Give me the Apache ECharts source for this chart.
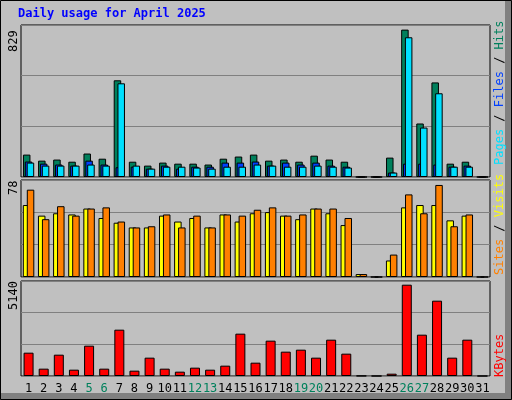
<!DOCTYPE html>
<html>
<head>
<meta charset="utf-8">
<script src="https://cdn.jsdelivr.net/npm/echarts@6/dist/echarts.min.js"></script>
<style>
  html, body { margin: 0; padding: 0; background: #c0c0c0; }
  #main { width: 512px; height: 400px; }
</style>
</head>
<body>
<div id="main"></div>
<script>
// data
const days = [];
for (let d = 1; d <= 31; d++) days.push(String(d));
const weekends = ["5", "6", "12", "13", "19", "20", "26", "27"];

const hits = [126, 92, 98, 86, 132, 103, 544, 86, 64, 81, 75, 75, 70, 103, 115, 126,
  92, 98, 86, 120, 98, 86, 0, 0, 109, 829, 301, 532, 75, 86, 0];
const files = [87, 75, 70, 64, 92, 70, 55, 58, 47, 64, 47, 58, 58, 81, 81, 87,
  64, 81, 70, 81, 64, 58, 0, 0, 25, 75, 75, 70, 58, 64, 0];
const pages = [81, 64, 64, 64, 70, 64, 527, 64, 47, 58, 58, 53, 47, 58, 58, 70,
  64, 58, 58, 64, 58, 53, 0, 0, 25, 786, 278, 471, 58, 58, 0];
const visits = [61, 52, 54, 53, 58, 50, 46, 42, 42, 52, 47, 50, 42, 53, 47, 54,
  55, 52, 49, 58, 54, 44, 2.5, 0, 14, 59, 61, 61, 48, 52, 0];
const sites = [74, 49, 60, 52, 58, 59, 47, 42, 43, 53, 42, 52, 42, 53, 52, 57,
  59, 52, 53, 58, 58, 50, 2.5, 0, 19, 70, 54, 78, 43, 53, 0];
const kbytes = [1313, 413, 1200, 356, 1707, 413, 2608, 300, 1032, 413, 244, 469, 356, 582, 2383, 750,
  1989, 1370, 1482, 1032, 2045, 1257, 10, 0, 131, 5140, 2326, 4240, 1032, 2045, 0];

const topLabels = ["829", "78", "5140"];

const chart = echarts.init(document.getElementById("main"));
const font = "DejaVu Sans Mono";
const grids = [
  { left: 21, right: 22, top: 25, height: 152 },
  { left: 21, right: 22, top: 180, height: 97 },
  { left: 21, right: 22, top: 281, height: 95 }
];
const yMax = [855, 82.2, 5348];

function barS(name, data, color, idx, width, gap) {
  return {
    name: name, type: "bar", data: data, xAxisIndex: idx, yAxisIndex: idx,
    barWidth: width, barGap: gap, animation: false,
    itemStyle: { color: color, borderColor: "#000", borderWidth: 1 }
  };
}

chart.setOption({
  backgroundColor: "#c0c0c0",
  grid: grids.map(g => Object.assign({ show: true, backgroundColor: "#c0c0c0", borderColor: "#000", borderWidth: 1 }, g)),
  xAxis: [0, 1, 2].map(i => ({
    type: "category", gridIndex: i, data: days,
    axisLine: { show: false }, axisTick: { show: false },
    axisLabel: i < 2 ? { show: false } : {
      margin: 7, fontFamily: font, fontSize: 12, interval: 0,
      color: (v) => weekends.includes(v) ? "#00805c" : "#000"
    }
  })),
  yAxis: [0, 1, 2].map(i => ({
    type: "value", gridIndex: i, min: 0, max: yMax[i], interval: yMax[i] / 3,
    axisLabel: { show: false }, axisLine: { show: false }, axisTick: { show: false },
    splitLine: { lineStyle: { color: "#808080", width: 1 } }
  })),
  series: [
    barS("Hits", hits, "#00805c", 0, 7.5, "-75%"),
    barS("Files", files, "#0040ff", 0, 7.5, "-75%"),
    barS("Pages", pages, "#00e0ff", 0, 7.5, "-75%"),
    barS("Visits", visits, "#ffff00", 1, 7.5, "-47%"),
    barS("Sites", sites, "#ff8000", 1, 7.5, "-47%"),
    barS("KBytes", kbytes, "#ff0000", 2, 10, "0%")
  ],
  graphic: [
    { type: "rect", shape: { x: 505, y: 0, width: 7, height: 400 }, style: { fill: "#808080" }, silent: true },
    { type: "rect", shape: { x: 0, y: 393, width: 512, height: 7 }, style: { fill: "#808080" }, silent: true },
    { type: "rect", shape: { x: 0.5, y: 0.5, width: 511, height: 399 }, style: { fill: null, stroke: "#000" }, silent: true },
    { type: "text", left: 18, top: 8, style: { text: "Daily usage for April 2025", fill: "#0000ff", font: "bold 12px " + font } },
    { type: "text", x: 8, y: 52, rotation: Math.PI / 2, style: { text: topLabels[0], fill: "#000", font: "12px " + font } },
    { type: "text", x: 8, y: 195, rotation: Math.PI / 2, style: { text: topLabels[1], fill: "#000", font: "12px " + font } },
    { type: "text", x: 8, y: 310, rotation: Math.PI / 2, style: { text: topLabels[2], fill: "#000", font: "12px " + font } },
    { type: "text", x: 494, y: 165, rotation: Math.PI / 2, style: {
      text: "{p|Pages} / {f|Files} / {h|Hits}", font: "12px " + font, fill: "#000",
      rich: { p: { fill: "#00e0ff" }, f: { fill: "#0040ff" }, h: { fill: "#00805c" } } } },
    { type: "text", x: 494, y: 275, rotation: Math.PI / 2, style: {
      text: "{s|Sites} / {v|Visits}", font: "12px " + font, fill: "#000",
      rich: { s: { fill: "#ff8000" }, v: { fill: "#ffff00" } } } },
    { type: "text", x: 494, y: 377, rotation: Math.PI / 2, style: { text: "KBytes", fill: "#ff0000", font: "12px " + font } }
  ]
});
</script>
</body>
</html>
